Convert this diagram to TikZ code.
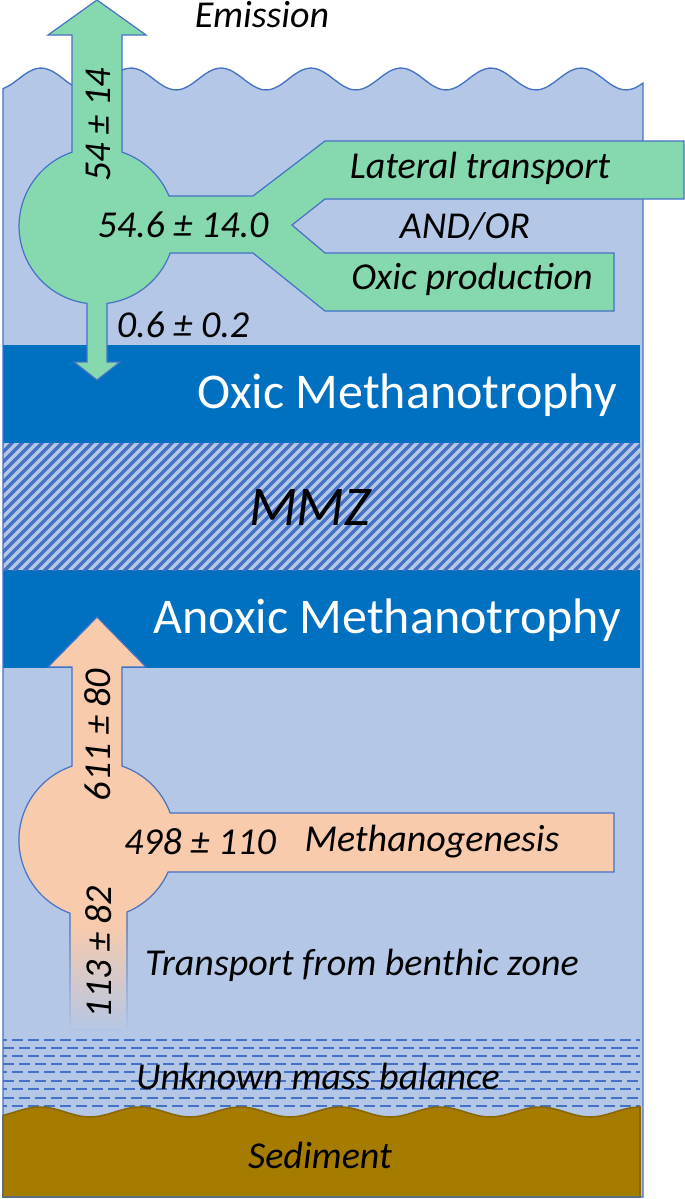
\documentclass[tikz,border=0pt]{standalone}
\usepackage{fontspec}
\setmainfont{Carlito}
\usetikzlibrary{fadings}
\definecolor{water}{HTML}{B4C7E7}
\definecolor{edge}{HTML}{4472C4}
\definecolor{band}{HTML}{0070C0}
\definecolor{grn}{HTML}{86D8AF}
\definecolor{org}{HTML}{F8CBAD}
\definecolor{sed}{HTML}{A57C00}
\definecolor{sededge}{HTML}{8A6800}
\tikzset{
  lbl/.style={font=\itshape\fontsize{28.5}{30}\selectfont, inner sep=0pt},
  bandtxt/.style={font=\fontsize{37.5}{40}\selectfont, text=white, inner sep=0pt, anchor=east},
  flow/.style={draw=edge, line width=0.9pt, line join=miter}
}
\begin{document}
\begin{tikzpicture}[x=0.75pt,y=-0.75pt]
\useasboundingbox (0,0) rectangle (685,1199);
% water body
\fill[water] (3,1197) -- plot[smooth,domain=3:643,samples=80] (\x,{79-11*cos(4*(\x-41))}) -- (643,1197) -- cycle;
% bands
\fill[band] (3,345) rectangle (640,443);
\fill[band] (3,570) rectangle (640,668);
\begin{scope}
\clip (3,443) rectangle (640,570);
\foreach \i in {-140,-130,...,650} \draw[edge, line width=2.4pt] (\i,575) -- ++(135,-135);
\end{scope}
\node[bandtxt] (oxic) at (617,395) {Oxic Methanotrophy};
\node[bandtxt] (anoxic) at (621,620) {Anoxic Methanotrophy};
\node[lbl, font=\itshape\fontsize{42}{44}\selectfont] (mmz) at (310,508) {MMZ};
% dashed zone
\foreach \y [count=\k] in {1040,1048,1056,1064,1072,1081,1089,1098,1106}
  \draw[edge, line width=1.1pt, dash pattern=on 8pt off 4pt, dash phase={mod(\k,2)*5pt}] (3,\y) -- (640,\y);
% sediment
\fill[sed, draw=sededge, line width=1.2pt] (3,1197) -- (3,1117) -- plot[smooth,domain=3:640,samples=80] (\x,{1112-5*cos(3.6*(\x-140))}) -- (640,1197) -- cycle;
% water outline
\draw[edge, line width=1pt] (3,1197) -- (3,{79-11*cos(4*(3-41))}) -- plot[smooth,domain=3:643,samples=80] (\x,{79-11*cos(4*(\x-41))}) -- (643,1197) -- cycle;
% green flow shape
\fill[grn] (97,0) -- (146,35) -- (122,35) -- (122,152.1)
  arc[start angle=-71.3, end angle=-22.6, radius=78] -- (253,196) -- (325,141) -- (684,141) -- (684,199) -- (325,199) -- (292,225) -- (325,253) -- (614,253) -- (614,311) -- (325,311) -- (253,253) -- (170.2,253)
  arc[start angle=20.2, end angle=82.6, radius=78] -- (107,362) -- (120,362) -- (97,380) -- (74,362) -- (87,362) -- (87,303.4)
  arc[start angle=97.4, end angle=251.3, radius=78] -- (72,35) -- (48,35) -- cycle;
\draw[flow] (97,0) -- (146,35) -- (122,35) -- (122,152.1)
  arc[start angle=-71.3, end angle=-22.6, radius=78] -- (253,196) -- (325,141) -- (684,141) -- (684,199) -- (325,199) -- (292,225) -- (325,253) -- (614,253) -- (614,311) -- (325,311) -- (253,253) -- (170.2,253)
  arc[start angle=20.2, end angle=82.6, radius=78] -- (107,362) -- (120,362) -- (97,380) -- (74,362) -- (87,362) -- (87,303.4)
  arc[start angle=97.4, end angle=251.3, radius=78] -- (72,35) -- (48,35) -- cycle;
% orange flow shape
\filldraw[fill=org, flow] (97,617) -- (146,667) -- (122,667) -- (122,766.1)
  arc[start angle=-71.3, end angle=-20.2, radius=78] -- (614,813) -- (614,872) -- (168.1,872)
  arc[start angle=24.2, end angle=67.4, radius=78] -- (127,1030) -- (70,1030) -- (70,913.2)
  arc[start angle=110.2, end angle=251.3, radius=78] -- (72,667) -- (48,667) -- cycle;
\fill[water, path fading=north] (66,925) rectangle (131,1032);
\fill[water] (66,1031) rectangle (131,1036);
% labels
\node[lbl] (emis) at (262,15) {Emission};
\node[lbl, rotate=90] (f1) at (98,125) {54 ± 14};
\node[lbl] (f2) at (183,225) {54.6 ± 14.0};
\node[lbl] (lat) at (480,168) {Lateral transport};
\node[lbl] (andor) at (465,226) {AND/OR};
\node[lbl] (oxp) at (472,279) {Oxic production};
\node[lbl] (f3) at (183,325) {0.6 ± 0.2};
\node[lbl, rotate=90] (f4) at (98,735) {611 ± 80};
\node[lbl] (f5) at (200,842) {498 ± 110};
\node[lbl] (meth) at (432,842) {Methanogenesis};
\node[lbl, rotate=90] (f6) at (99,952) {113 ± 82};
\node[lbl] (benth) at (362,965) {Transport from benthic zone};
\node[lbl] (unk) at (318,1076) {Unknown mass balance};
\node[lbl] (sedt) at (320,1155) {Sediment};
\end{tikzpicture}
\end{document}
